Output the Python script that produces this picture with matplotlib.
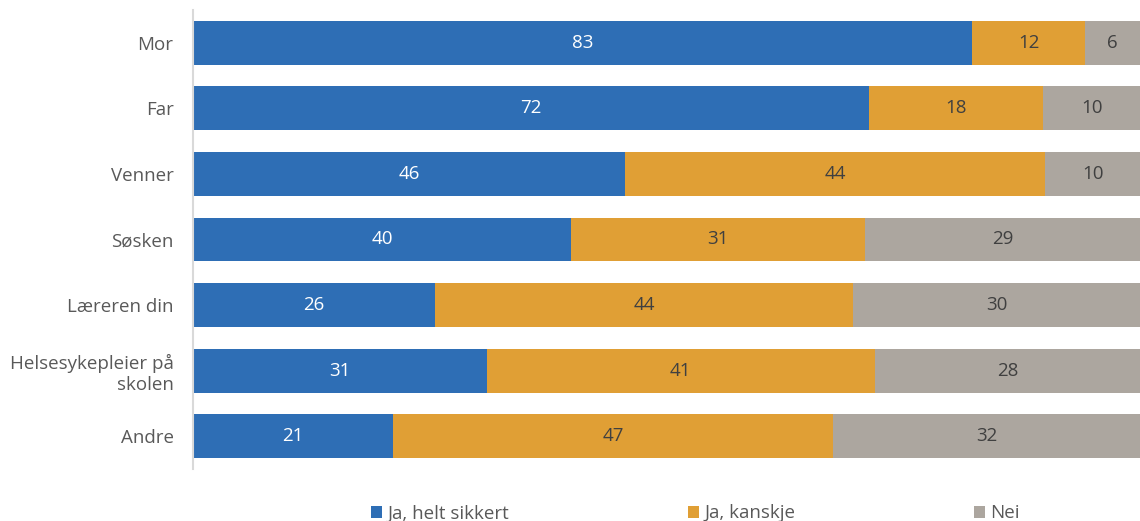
import matplotlib

matplotlib.use("Agg")
import matplotlib.pyplot as plt
import numpy as np

categories = ["Mor", "Far", "Venner", "Søsken", "Læreren din",
              "Helsesykepleier på\nskolen", "Andre"]
series_names = ["Ja, helt sikkert", "Ja, kanskje", "Nei"]
# shares; labels shown are the rounded values
helt_sikkert = [82.3, 71.4, 45.6, 39.9, 25.6, 31.0, 21.1]
kanskje = [11.9, 18.4, 44.4, 31.1, 44.1, 41.0, 46.5]
nei = [5.8, 10.2, 10.0, 29.0, 30.3, 28.0, 32.4]
labels_helt = [83, 72, 46, 40, 26, 31, 21]
labels_kanskje = [12, 18, 44, 31, 44, 41, 47]
labels_nei = [6, 10, 10, 29, 30, 28, 32]

colors = ["#2E6EB5", "#E09F35", "#ACA69F"]
label_colors = ["white", "#404040", "#404040"]

plt.rcParams["font.family"] = ["Open Sans", "DejaVu Sans"]

fig = plt.figure(figsize=(11.4, 5.21), dpi=100)
ax = fig.add_axes([193 / 1140, 1 - 469 / 521, 1 - 193 / 1140, 459 / 521])

y = np.arange(len(categories))
left = np.zeros(len(categories))
for vals, labs, name, c, lc in zip(
    [helt_sikkert, kanskje, nei],
    [labels_helt, labels_kanskje, labels_nei],
    series_names, colors, label_colors,
):
    vals = np.array(vals)
    bars = ax.barh(y, vals, left=left, height=0.67, color=c, label=name)
    ax.bar_label(bars, labels=[str(v) for v in labs], label_type="center",
                 color=lc, fontsize=13.5)
    left += vals

ax.set_xlim(0, 100)
ax.set_ylim(len(categories) - 0.5, -0.5)
ax.set_yticks(y)
ax.set_yticklabels(categories, fontsize=13.5, color="#595959")
ax.tick_params(axis="y", length=0, pad=14)
ax.set_xticks([])
for s in ["top", "right", "bottom"]:
    ax.spines[s].set_visible(False)
ax.spines["left"].set_color("#D9D9D9")
ax.spines["left"].set_linewidth(1.5)

fig.legend(loc="lower center", bbox_to_anchor=(0.61, -0.035), ncol=3,
           frameon=False, fontsize=13.5, labelcolor="#595959",
           handlelength=0.6, handleheight=0.6, handletextpad=0.3,
           columnspacing=9.5)

fig.savefig("out.png", dpi=100)
